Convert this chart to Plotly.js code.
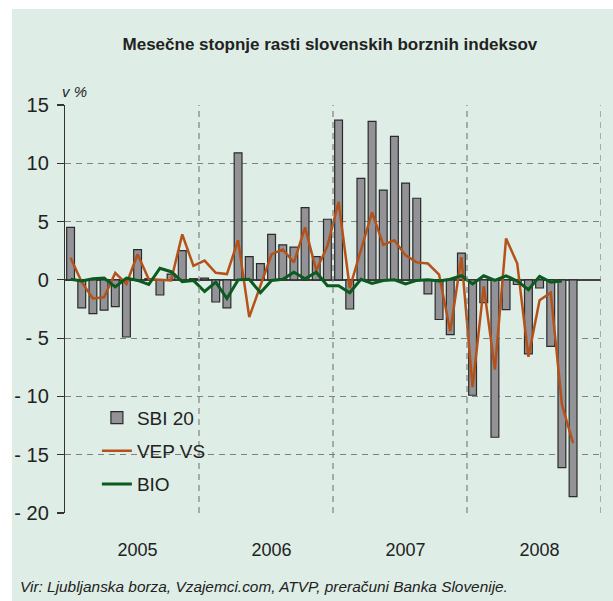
<!DOCTYPE html>
<html>
<head>
<meta charset="utf-8">
<script src="https://cdn.plot.ly/plotly-3.0.1.min.js"></script>
<style>
html,body{margin:0;padding:0;background:#ffffff;}
#chart{position:absolute;left:12px;top:9px;width:601px;height:592px;}
</style>
</head>
<body>
<div id="chart"></div>
<script>
// Monthly growth rates, Jan 2005 .. Dec 2008 (index 0 = Jan 2005)
const years = ["2005", "2006", "2007", "2008"];
const sbi20 = [4.5, -2.4, -2.9, -2.6, -2.3, -4.9, 2.6, 0.1, -1.3, 0.5, 2.5, 0.1,
               0.15, -1.9, -2.4, 10.9, 2.0, 1.4, 3.9, 3.0, 2.8, 6.2, 2.0, 5.2,
               13.7, -2.5, 8.7, 13.6, 7.7, 12.3, 8.3, 7.0, -1.2, -3.4, -4.7, 2.3,
               -9.9, -1.95, -13.5, -2.55, -0.4, -6.35, -0.7, -5.7, -16.1, -18.6];
const vepvs = [1.9, -0.2, -1.6, -1.5, 0.6, -0.35, 2.2, 0.05, 0.0, -0.05, 3.9, 1.2,
               1.65, 0.6, 0.5, 3.4, -3.2, -0.4, 2.2, 2.6, 1.5, 4.5, 0.8, 2.9,
               6.7, -0.7, 2.6, 5.8, 3.0, 3.4, 2.1, 1.5, 1.4, 0.45, -4.4, 1.95,
               -9.2, -0.55, -7.7, 3.55, 1.4, -6.6, -1.75, -1.1, -10.7, -14.0];
const bio = [0.05, -0.1, 0.1, 0.15, -0.6, 0.15, -0.05, -0.4, 1.0, 0.7, -0.15, -0.05,
             -1.0, -0.2, -1.6, 0.0, 0.05, -1.1, -0.05, 0.05, 0.65, 0.1, 0.65, -0.5,
             -0.5, -1.1, 0.05, -0.3, -0.05, 0.0, -0.35, -0.05, 0.0, -0.1, 0.05, 0.35,
             -0.35, 0.35, -0.05, 0.35, -0.1, -0.85, 0.3, -0.2, -0.1];
const yTickVals = [15, 10, 5, 0, -5, -10, -15, -20];
const yTickText = ["15", "10", "5", "0", "- 5", "- 10", "- 15", "- 20"];

const idx = arr => arr.map((_, i) => i);
const nMonths = years.length * 12;
const yearCenters = years.map((_, i) => i * 12 + 6);
const yearBounds = years.map((_, i) => i * 12 + 11.5);

const FONT = "'Liberation Sans', Arial, sans-serif";
const BG = "#deede5";
const TXT = "#222222";

const traces = [
  {type: "bar", name: "SBI 20", legendgroup: "a", x: idx(sbi20), y: sbi20, width: 0.7,
   marker: {color: "#929297", line: {color: "#2b2b2b", width: 1.2}}},
  {type: "scatter", mode: "lines", name: "VEP VS", legendgroup: "b", x: idx(vepvs), y: vepvs,
   line: {color: "#b4521a", width: 2.5}},
  {type: "scatter", mode: "lines", name: "BIO", legendgroup: "c", x: idx(bio), y: bio,
   line: {color: "#0b5a1f", width: 3}}
];

const shapes = yearBounds.map(v => ({
  type: "line", xref: "x", yref: "paper", x0: v, x1: v, y0: 0, y1: 1,
  line: {color: "#808080", width: 1.2, dash: "6px,5px"}
}));

const layout = {
  width: 601, height: 592,
  paper_bgcolor: BG, plot_bgcolor: BG,
  margin: {l: 53, r: 12, t: 96, b: 88},
  font: {family: FONT, color: TXT, size: 19},
  title: {text: "<b>Mesečne stopnje rasti slovenskih borznih indeksov</b>",
          font: {family: FONT, size: 17, color: TXT},
          xref: "container", yref: "container", x: 0.529, y: 0.941,
          xanchor: "center", yanchor: "middle"},
  showlegend: true,
  legend: {x: 0.0595, y: 0.28, xanchor: "left", yanchor: "top",
           bgcolor: "rgba(0,0,0,0)", font: {family: FONT, size: 19, color: TXT},
           traceorder: "grouped", tracegroupgap: 5.5, itemwidth: 30},
  xaxis: {range: [-0.5, nMonths - 0.5], tickmode: "array", tickvals: yearCenters,
          ticktext: years, showgrid: false, zeroline: false, showline: false,
          ticks: "", ticklabelstandoff: 24, tickfont: {family: FONT, size: 18, color: TXT},
          fixedrange: true},
  yaxis: {range: [-20, 15], tickmode: "array", tickvals: yTickVals, ticktext: yTickText,
          showgrid: true, gridcolor: "#808080", griddash: "6px,5px", gridwidth: 1.2,
          zeroline: true, zerolinecolor: "#444444", zerolinewidth: 1.5,
          showline: true, linecolor: "#333333", linewidth: 1.2,
          ticks: "outside", ticklen: 7, tickcolor: "#333333", tickwidth: 1.2,
          ticklabelstandoff: 4,
          tickfont: {family: FONT, size: 20, color: TXT}, fixedrange: true},
  shapes: shapes,
  annotations: [
    {text: "<i>v %</i>", xref: "paper", yref: "paper", x: -0.009, y: 1.034,
     xanchor: "left", yanchor: "middle", showarrow: false,
     font: {family: FONT, size: 15, color: TXT}},
    {text: "<i>Vir: Ljubljanska borza, Vzajemci.com, ATVP, preračuni Banka Slovenije.</i>",
     xref: "paper", yref: "paper", x: -0.0877, y: -0.179,
     xanchor: "left", yanchor: "middle", showarrow: false,
     font: {family: FONT, size: 15.4, color: TXT}}
  ]
};

Plotly.newPlot("chart", traces, layout, {displayModeBar: false, staticPlot: true});
</script>
</body>
</html>
